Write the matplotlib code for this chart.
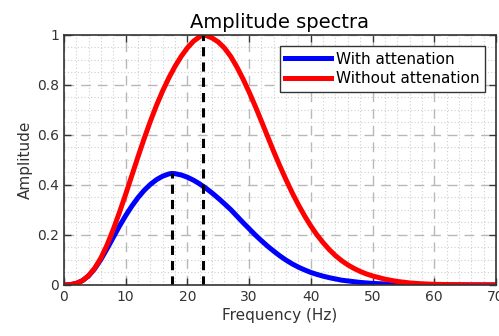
import numpy as np
import matplotlib
matplotlib.use("Agg")
import matplotlib.pyplot as plt
from matplotlib.ticker import MultipleLocator

# Frecuencias (Hz) y amplitudes
freq_red = [0, 1, 2, 3, 4, 5, 6, 7, 8, 9, 10, 11, 12, 13, 14, 15, 16, 17, 18, 19,
            20, 21, 22, 22.5, 23, 24, 25, 26, 27, 28, 29, 30, 31, 32, 33, 34, 35,
            36, 37, 38, 39, 40, 41, 42, 43, 44, 45, 46, 47, 48, 49, 50, 52, 54,
            56, 58, 60, 63, 66, 70]
amp_red = [0, 0.001, 0.006, 0.017, 0.037, 0.067, 0.108, 0.16, 0.222, 0.29, 0.362,
           0.437, 0.512, 0.585, 0.654, 0.718, 0.776, 0.828, 0.874, 0.914, 0.948,
           0.975, 0.993, 1.0, 0.998, 0.988, 0.972, 0.948, 0.915, 0.873, 0.825,
           0.772, 0.715, 0.655, 0.594, 0.533, 0.475, 0.42, 0.368, 0.32, 0.276,
           0.236, 0.2, 0.169, 0.141, 0.117, 0.097, 0.08, 0.066, 0.054, 0.044,
           0.036, 0.023, 0.014, 0.008, 0.0045, 0.0025, 0.001, 0.0003, 0]

freq_blue = [0, 1, 2, 3, 4, 5, 6, 7, 8, 9, 10, 11, 12, 13, 14, 15, 16, 17, 17.5,
             18, 19, 20, 21, 22, 23, 24, 25, 26, 27, 28, 29, 30, 31, 32, 33, 34,
             35, 36, 37, 38, 39, 40, 41, 42, 43, 44, 45, 46, 48, 50, 52, 55, 60,
             65, 70]
amp_blue = [0, 0.001, 0.006, 0.017, 0.036, 0.065, 0.102, 0.145, 0.19, 0.235,
            0.277, 0.315, 0.349, 0.378, 0.402, 0.421, 0.435, 0.444, 0.446, 0.445,
            0.44, 0.431, 0.419, 0.404, 0.387, 0.368, 0.347, 0.325, 0.302, 0.276,
            0.25, 0.225, 0.2, 0.177, 0.155, 0.135, 0.116, 0.099, 0.084, 0.071,
            0.06, 0.05, 0.042, 0.035, 0.029, 0.024, 0.019, 0.016, 0.01, 0.006,
            0.004, 0.002, 0.0005, 0, 0]

# Frecuencias pico y amplitudes maximas
peak_freqs = [17.5, 22.5]
peak_amps = [0.446, 1.0]

fig = plt.figure(figsize=(4.99, 3.36), dpi=100)
ax = fig.add_axes([0.128, 0.152, 0.866, 0.744])

ax.plot(freq_blue, amp_blue, color="blue", linewidth=3.6, label="With attenation")
ax.plot(freq_red, amp_red, color="red", linewidth=3.6, label="Without attenation")

for fp, ap in zip(peak_freqs, peak_amps):
    ax.plot([fp, fp], [0, ap], color="black", linestyle=(0, (3, 2)), linewidth=2.2)

ax.set_xlim(0, 70)
ax.set_ylim(0, 1)
ax.xaxis.set_major_locator(MultipleLocator(10))
ax.xaxis.set_minor_locator(MultipleLocator(2))
ax.yaxis.set_minor_locator(MultipleLocator(0.05))
ax.set_yticks([0, 0.2, 0.4, 0.6, 0.8, 1.0])
ax.set_yticklabels(["0", "0.2", "0.4", "0.6", "0.8", "1"])

# Rejilla estilo MATLAB
ax.grid(which="major", color="#b8b8b8", linestyle=(0, (7, 5)), linewidth=1.0)
ax.grid(which="minor", color="#cfcfcf", linestyle=(0, (1, 2)), linewidth=0.8)
ax.set_axisbelow(True)

ax.tick_params(which="both", direction="in", top=True, right=True,
               labelsize=10, colors="#333333", labelcolor="#333333")
ax.tick_params(which="major", length=5, width=1)
ax.tick_params(which="minor", length=0)
for sp in ax.spines.values():
    sp.set_color("#333333")
    sp.set_linewidth(1.2)

ax.set_xlabel("Frequency (Hz)", fontsize=11, color="#333333", labelpad=3)
ax.set_ylabel("Amplitude", fontsize=11, color="#333333", labelpad=3)
ax.set_title("Amplitude spectra", fontsize=14, color="black", pad=5)

leg = ax.legend(loc="upper right", fontsize=11, fancybox=False, framealpha=1,
                edgecolor="#333333", handlelength=3.0, borderaxespad=0.75,
                borderpad=0.35, labelspacing=0.3, handletextpad=0.3)
leg.get_frame().set_linewidth(1.0)

fig.savefig("out.png", dpi=100)
